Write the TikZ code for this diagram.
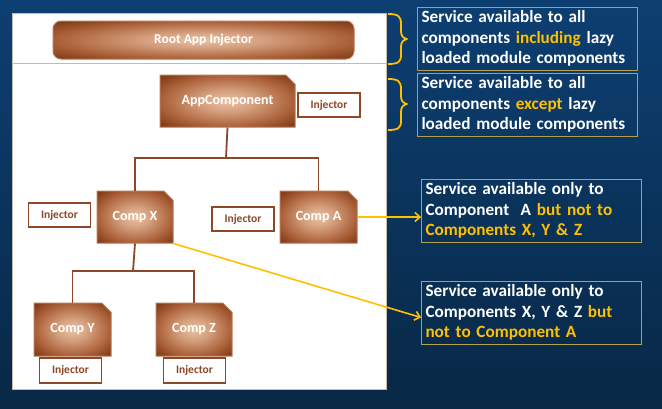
\documentclass[tikz,border=0pt]{standalone}
\usepackage{fontspec}
\setmainfont{Carlito}
\usetikzlibrary{shapes.misc,arrows.meta,calc}
\definecolor{bgtop}{RGB}{13,63,114}
\definecolor{bgbot}{RGB}{8,40,70}
\definecolor{brownD}{RGB}{128,58,22}
\definecolor{brownM}{RGB}{172,98,58}
\definecolor{brownL}{RGB}{234,194,164}
\definecolor{bordbrown}{RGB}{185,120,85}
\definecolor{injbrown}{RGB}{140,72,40}
\definecolor{yel}{RGB}{255,192,0}
\definecolor{boxbord}{RGB}{180,160,75}
\definecolor{panelbord}{RGB}{200,185,170}
\definecolor{sepcol}{RGB}{215,180,160}
\pgfdeclareradialshading{compshade}{\pgfpoint{0bp}{0bp}}{color(0bp)=(brownL); color(10bp)=(brownL!65!brownM); color(24bp)=(brownM); color(34bp)=(brownD); color(50bp)=(brownD)}
\newcommand{\yl}[1]{\textcolor{yel}{#1}}
\begin{document}
\begin{tikzpicture}[x=1pt,y=-1pt,
  comp/.style={chamfered rectangle, chamfered rectangle corners=north east,
    chamfered rectangle xsep=8pt, shading=compshade, draw=bordbrown, line width=1pt,
    text=white, font=\bfseries\fontsize{14}{16}\selectfont, inner sep=0pt},
  rootbox/.style={rounded corners=8pt, shading=compshade, draw=bordbrown, line width=1pt,
    text=white, font=\bfseries\fontsize{13.5}{16}\selectfont, inner sep=0pt,
    minimum width=301pt, minimum height=38pt},
  inj/.style={draw=injbrown, line width=1.6pt, fill=white, text=injbrown,
    font=\bfseries\fontsize{11.5}{13}\selectfont, minimum width=62pt, minimum height=24pt, inner sep=0pt},
  conn/.style={draw=injbrown, line width=1.8pt},
  tbox/.style={draw=boxbord, line width=0.8pt, text=white, align=left,
    font=\bfseries\fontsize{17.2}{20.5}\selectfont, text width=212pt, inner xsep=4pt,
    minimum height=63pt},
  yarrow/.style={draw=yel, line width=1.6pt, -{Straight Barb[length=5pt,width=9pt]}},
  ybrace/.style={draw=yel, line width=1.8pt, line join=round}
]
\useasboundingbox (0,0) rectangle (662,408);
\shade[top color=bgtop, bottom color=bgbot] (0,0) rectangle (662,408);
% panel
\draw[panelbord, fill=white, line width=0.8pt] (12,13) rectangle (386,389);
\draw[sepcol, line width=0.8pt] (12,63) -- (386,63);
% nodes
\node[rootbox] (root) at (203.5,40) {\raisebox{2pt}{Root App Injector}};
\node[comp, minimum width=135pt, minimum height=52pt] (app) at (227.5,101) {\raisebox{3pt}{AppComponent}};
\node[inj] (injApp) at (329,105) {Injector};
\node[comp, minimum width=76pt, minimum height=52pt] (compX) at (135,217) {\raisebox{3pt}{Comp X}};
\node[inj] (injX) at (59.5,215) {Injector};
\node[comp, minimum width=77pt, minimum height=52pt] (compA) at (318.5,217) {\raisebox{3pt}{Comp A}};
\node[inj] (injA) at (243,219) {Injector};
\node[comp, minimum width=77pt, minimum height=53pt] (compY) at (72.5,329.5) {\raisebox{3pt}{Comp Y}};
\node[comp, minimum width=76pt, minimum height=53pt] (compZ) at (194,329.5) {\raisebox{3pt}{Comp Z}};
\node[inj, minimum height=25pt] (injY) at (70.5,370.5) {Injector};
\node[inj, minimum height=25pt] (injZ) at (194.5,370.5) {Injector};
% connectors
\coordinate (j1) at (226,158);
\coordinate (j2) at (133,271);
\draw[conn] (app.south) -- (j1);
\draw[conn] (compX.north) |- (j1) -| (compA.north);
\draw[conn] (compX.south) -- (j2);
\draw[conn] (compY.north) |- (j2) -| (compZ.north);
% text boxes
\node[tbox] (b1) at (527.5,38.5) {Service available to all\\components \yl{including} lazy\\loaded module components};
\node[tbox] (b2) at (527.5,104.5) {Service available to all\\components \yl{except} lazy\\loaded module components};
\node[tbox] (b3) at (531.5,210.5) {Service available only to\\Component\ \ A \yl{but not to}\\\yl{Components X, Y \& Z}};
\node[tbox] (b4) at (531.5,312.5) {Service available only to\\Components X, Y \& Z \yl{but}\\\yl{not to Component A}};
% braces
\draw[ybrace] (388,14) .. controls (398,14) and (401,16) .. (401,24) -- (401,31)
  .. controls (401,36) and (403,38) .. (407,39) .. controls (403,40) and (401,42) .. (401,47)
  -- (401,55) .. controls (401,62) and (398,64) .. (388,64);
\draw[ybrace] (388,79) .. controls (398,79) and (401,81) .. (401,89) -- (401,96)
  .. controls (401,101) and (403,103) .. (407,104) .. controls (403,105) and (401,107) .. (401,112)
  -- (401,121) .. controls (401,128) and (398,130) .. (388,130);
% arrows
\draw[yarrow] (compA.east) -- (compA.east -| b3.west);
\draw[yarrow] (compX.south east) -- ($(b4.west)+(0,5)$);
\end{tikzpicture}
\end{document}
